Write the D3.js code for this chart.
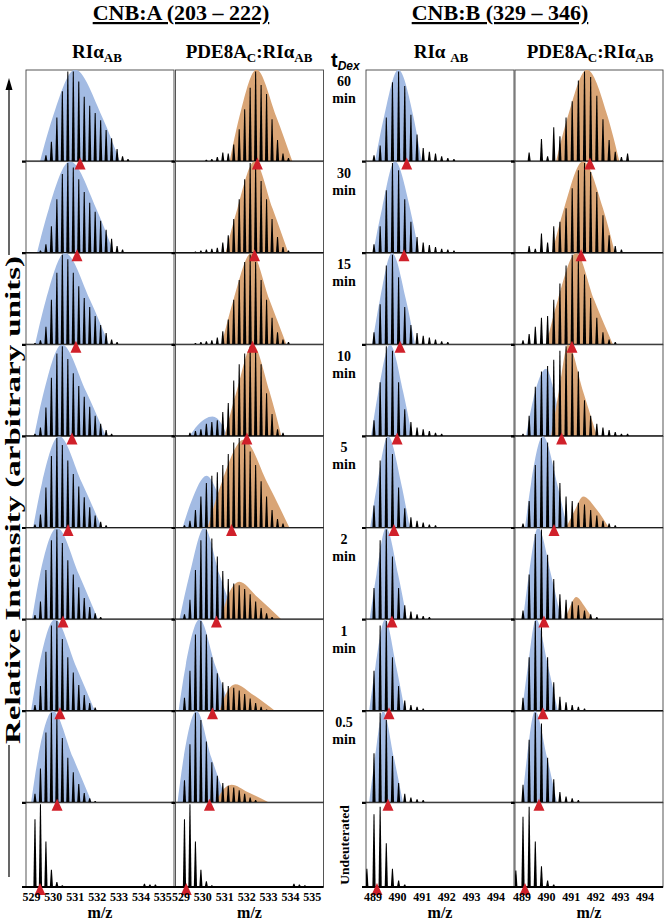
<!DOCTYPE html>
<html><head><meta charset="utf-8">
<script src="https://cdn.jsdelivr.net/npm/d3@7"></script>
<style>body{margin:0;background:#fff}svg{display:block}</style>
</head><body>
<svg id="c" width="664" height="922"></svg>
<script>
// ---------- data ----------
const timeLabels = ["60","30","15","10","5","2","1","0.5","Undeuterated"];
const ticksA = [529,530,531,532,533,534,535];
const ticksB = [489,490,491,492,493,494];
const domainA = [528.75, 535.51];
const domainB = [488.715, 494.73];
const monoA = 529.16, monoB = 489.04, isoStep = 0.25;

// peak heights, index = isotope number from the monoisotopic peak
const peaksA_free = [
 [0,0,0.07,0.22,0.49,0.78,1.0,1.0,0.89,0.72,0.62,0.54,0.46,0.35,0.26,0.14,0.06,0.03],
 [0,0.03,0.1,0.3,0.6,0.88,1.0,0.95,0.82,0.68,0.56,0.46,0.36,0.26,0.16,0.08,0.04],
 [0.02,0.05,0.2,0.5,0.8,1.0,0.95,0.8,0.65,0.52,0.42,0.32,0.22,0.13,0.06,0.03],
 [0.03,0.1,0.32,0.65,0.92,1.0,0.86,0.7,0.56,0.44,0.33,0.23,0.14,0.07,0.03],
 [0.04,0.15,0.45,0.8,1.0,0.92,0.75,0.6,0.46,0.34,0.23,0.14,0.07,0.03],
 [0.05,0.2,0.55,0.88,1.0,0.85,0.66,0.5,0.36,0.24,0.14,0.07,0.03],
 [0.07,0.28,0.66,0.95,1.0,0.8,0.6,0.43,0.29,0.18,0.09,0.04],
 [0.1,0.38,0.78,1.0,0.95,0.72,0.5,0.34,0.21,0.11,0.05,0.02],
 [0.82,1.0,0.55,0.21,0.06,0.02,0,0,0,0,0,0,0,0,0,0,0,0,0,0,0.04,0.03,0.03]
];
const peaksA_cplx = [
 [0,0,0,0,0.02,0.03,0.05,0.1,0.09,0.19,0.36,0.58,0.82,1.0,0.85,0.75,0.47,0.24,0.09,0.04],
 [0,0,0.02,0.03,0.04,0.05,0.06,0.12,0.2,0.38,0.6,0.82,1.0,0.98,0.8,0.6,0.38,0.18,0.07,0.03],
 [0,0,0.02,0.03,0.04,0.05,0.08,0.15,0.28,0.5,0.72,0.92,1.0,0.92,0.72,0.5,0.3,0.14,0.06,0.03],
 [0,0.04,0.06,0.08,0.14,0.16,0.18,0.27,0.37,0.62,0.8,0.92,1.0,0.96,0.8,0.48,0.25,0.08,0.04],
 [0.03,0.08,0.2,0.35,0.5,0.58,0.62,0.7,0.82,0.95,1.0,0.96,0.85,0.7,0.52,0.35,0.2,0.1,0.05],
 [0.06,0.22,0.55,0.88,1.0,0.9,0.7,0.54,0.45,0.4,0.38,0.34,0.28,0.2,0.13,0.07,0.03],
 [0.15,0.45,0.85,1.0,0.85,0.6,0.42,0.32,0.28,0.26,0.23,0.19,0.14,0.09,0.05,0.02],
 [0.25,0.65,1.0,0.92,0.68,0.45,0.3,0.22,0.19,0.17,0.14,0.1,0.06,0.03],
 [0.82,1.0,0.55,0.21,0.07,0.02,0,0,0,0,0,0,0,0,0,0,0,0,0,0,0.04,0.03,0.02]
];
const peaksB_free = [
 [0.07,0.18,0.49,0.88,1.0,0.84,0.52,0.3,0.15,0.11,0.09,0.06,0.04,0.03],
 [0.1,0.3,0.7,1.0,0.92,0.6,0.35,0.18,0.12,0.09,0.07,0.05,0.04,0.03],
 [0.14,0.45,0.88,1.0,0.75,0.42,0.22,0.13,0.1,0.08,0.06,0.04,0.03],
 [0.18,0.6,1.0,0.95,0.6,0.3,0.16,0.1,0.08,0.06,0.04,0.03],
 [0.25,0.75,1.0,0.82,0.45,0.22,0.12,0.08,0.06,0.04,0.03],
 [0.35,0.88,1.0,0.7,0.35,0.16,0.09,0.06,0.04,0.03],
 [0.45,0.95,1.0,0.6,0.28,0.12,0.07,0.05,0.03],
 [0.55,1.0,0.92,0.52,0.22,0.1,0.06,0.04,0.03],
 [0.88,0.97,0.53,0.22,0.08,0.03]
];
const peaksB_cplx = [
 [0,0.1,0,0.25,0.06,0.38,0.28,0.49,0.67,0.9,1.0,0.94,0.73,0.47,0.24,0.11,0.05,0.09],
 [0,0.08,0.05,0.22,0.12,0.3,0.35,0.5,0.72,0.92,1.0,0.9,0.68,0.42,0.2,0.08,0.04],
 [0.05,0.12,0.2,0.3,0.32,0.5,0.68,0.88,1.0,0.95,0.78,0.52,0.3,0.14,0.06,0.03],
 [0.03,0.23,0.55,0.72,0.78,0.85,0.95,1.0,0.92,0.72,0.4,0.23,0.14,0.1,0.07,0.05,0.03,0.03],
 [0.05,0.3,0.7,1.0,0.95,0.75,0.5,0.35,0.3,0.28,0.26,0.2,0.14,0.08,0.05,0.03],
 [0.1,0.5,0.95,1.0,0.72,0.45,0.28,0.22,0.2,0.16,0.1,0.06,0.03],
 [0.15,0.6,1.0,0.95,0.6,0.32,0.16,0.1,0.07,0.05,0.03],
 [0.2,0.7,1.0,0.88,0.5,0.26,0.12,0.07,0.05,0.03],
 [0.85,0.97,0.55,0.25,0.08,0.03]
];
// extra (non-isotope-grid) peaks: [row, m/z, height]
const extraB_free = [[8, 488.75, 0.22]];
const extraB_cplx = [[8, 488.75, 0.2]];

// envelope outlines: [m/z, relative height]
const blueA_free = [
 [[529.39,0],[529.98,0.5],[530.99,1.02],[532.22,0.5],[533.04,0]],
 [[529.25,0],[529.80,0.5],[530.76,1.02],[531.95,0.5],[532.77,0]],
 [[529.16,0],[529.66,0.5],[530.53,1.02],[531.67,0.5],[532.54,0]],
 [[529.12,0],[529.57,0.5],[530.39,1.02],[531.49,0.5],[532.40,0]],
 [[529.07,0],[529.48,0.5],[530.26,1.02],[531.31,0.5],[532.22,0]],
 [[529.02,0],[529.39,0.5],[530.17,1.02],[531.17,0.5],[532.04,0]],
 [[528.98,0],[529.34,0.5],[530.07,1.02],[531.03,0.5],[531.90,0]],
 [[528.98,0],[529.30,0.5],[529.98,1.02],[530.90,0.5],[531.76,0]],
 null
];
const blueA_cplx = [null,null,null,
 [[529.39,0],[529.75,0.12],[530.44,0.22],[530.85,0.14],[531.12,0]],
 [[529.07,0],[529.48,0.3],[530.17,0.58],[530.85,0.3],[531.49,0]],
 [[528.93,0],[529.39,0.5],[530.07,1.02],[530.76,0.5],[531.49,0]],
 [[528.89,0],[529.21,0.5],[529.85,1.02],[530.58,0.5],[531.31,0]],
 [[528.84,0],[529.12,0.5],[529.71,1.02],[530.39,0.5],[531.12,0]],
 null
];
const orangeA_cplx = [
 [[531.22,0],[531.67,0.5],[532.45,1.02],[533.35,0.5],[534.09,0]],
 [[531.03,0],[531.58,0.5],[532.36,1.02],[533.18,0.5],[533.91,0]],
 [[530.85,0],[531.40,0.5],[532.22,1.02],[533.04,0.5],[533.82,0]],
 [[530.99,0],[531.54,0.5],[532.27,1.02],[533.04,0.5],[533.59,0]],
 [[530.21,0],[530.85,0.5],[531.86,0.98],[532.95,0.5],[533.96,0]],
 [[530.85,0],[531.12,0.25],[531.67,0.42],[532.49,0.25],[533.59,0]],
 [[530.76,0],[531.03,0.18],[531.49,0.3],[532.31,0.18],[533.32,0]],
 [[530.58,0],[530.85,0.12],[531.31,0.2],[532.04,0.12],[533.04,0]],
 null
];
const blueB_free = [
 [[489.08,0],[489.45,0.5],[490.03,1.02],[490.64,0.5],[490.98,0]],
 [[489.00,0],[489.37,0.5],[489.89,1.02],[490.50,0.5],[490.87,0]],
 [[488.96,0],[489.28,0.5],[489.77,1.02],[490.34,0.5],[490.71,0]],
 [[488.92,0],[489.22,0.5],[489.69,1.02],[490.22,0.5],[490.59,0]],
 [[488.88,0],[489.18,0.5],[489.61,1.02],[490.14,0.5],[490.50,0]],
 [[488.86,0],[489.14,0.5],[489.53,1.02],[490.02,0.5],[490.38,0]],
 [[488.84,0],[489.10,0.5],[489.49,1.02],[489.94,0.5],[490.30,0]],
 [[488.84,0],[489.08,0.5],[489.41,1.02],[489.85,0.5],[490.22,0]],
 null
];
const blueB_cplx = [null,null,null,
 [[489.16,0],[489.45,0.4],[489.98,0.75],[490.34,0.45],[490.67,0]],
 [[489.12,0],[489.37,0.5],[489.85,1.02],[490.42,0.5],[490.83,0]],
 [[489.04,0],[489.28,0.5],[489.65,1.02],[490.18,0.5],[490.59,0]],
 [[489.00,0],[489.24,0.5],[489.57,1.02],[490.06,0.5],[490.46,0]],
 [[489.00,0],[489.20,0.5],[489.53,1.02],[490.02,0.5],[490.42,0]],
 null
];
const orangeB_cplx = [
 [[490.38,0],[490.86,0.5],[491.64,1.02],[492.48,0.5],[492.96,0]],
 [[490.22,0],[490.71,0.5],[491.48,1.02],[492.29,0.5],[492.78,0]],
 [[489.98,0],[490.46,0.5],[491.20,1.02],[491.93,0.5],[492.70,0]],
 [[490.18,0],[490.50,0.5],[490.87,1.02],[491.48,0.5],[492.05,0]],
 [[490.79,0],[491.15,0.2],[491.48,0.35],[492.05,0.2],[492.54,0]],
 [[490.75,0],[490.95,0.14],[491.20,0.25],[491.56,0.14],[491.89,0]],
 null,null,null
];
// centroid m/z (red triangles)
const centA_free = [531.22,531.08,531.03,530.85,530.67,530.44,530.30,530.17,529.39];
const centA_cplx = [532.49,532.36,532.27,532.01,531.31,530.62,530.44,530.30,529.24];
const centB_free = [490.37,490.26,490.10,489.98,489.85,489.77,489.65,489.61,489.16];
const centB_cplx = [491.76,491.40,491.03,490.61,490.30,489.89,489.85,489.69,489.12];

// ---------- layout ----------
const serif = "'Liberation Serif','Times New Roman',serif";
const sans = "'Liberation Sans',Arial,sans-serif";
const colLeft = [26,175.5,366,515], panelW = 148;
const rowTop0 = 70, rowH = 91.6, lastBottom = 887;
const tops = d3.range(9).map(i => rowTop0 + i*rowH);
const bottoms = tops.map((t,i) => i < 8 ? tops[i+1] : lastBottom);
const BLUE = "#a3bbe3", ORANGE = "#d9a576", RED = "#d0202a";

const cols = [
 {peaks:peaksA_free, mono:monoA, dom:domainA, ticks:ticksA, blue:blueA_free, orange:null, cent:centA_free, extra:[]},
 {peaks:peaksA_cplx, mono:monoA, dom:domainA, ticks:ticksA, blue:blueA_cplx, orange:orangeA_cplx, cent:centA_cplx, extra:[]},
 {peaks:peaksB_free, mono:monoB, dom:domainB, ticks:ticksB, blue:blueB_free, orange:null, cent:centB_free, extra:extraB_free},
 {peaks:peaksB_cplx, mono:monoB, dom:domainB, ticks:ticksB, blue:blueB_cplx, orange:orangeB_cplx, cent:centB_cplx, extra:extraB_cplx}
];

const svg = d3.select("#c");
const defs = svg.append("defs");
const gPanels = svg.append("g");
const gTri = svg.append("g");

cols.forEach((c, ci) => {
  const x = d3.scaleLinear().domain(c.dom).range([colLeft[ci], colLeft[ci] + panelW]);
  for (let r = 0; r < 9; r++) {
    const top = tops[r], base = bottoms[r];
    const y = d3.scaleLinear().domain([0,1]).range([base, top + 1.5]);
    const g = gPanels.append("g");
    const cid = `clip${ci}_${r}`;
    defs.append("clipPath").attr("id", cid).append("rect")
      .attr("x", colLeft[ci]).attr("y", top).attr("width", panelW).attr("height", base - top);
    g.append("rect").attr("x", colLeft[ci]).attr("y", top).attr("width", panelW).attr("height", base - top)
      .attr("fill", "#fff").attr("stroke", "#444").attr("stroke-width", 0.9);
    const inner = g.append("g").attr("clip-path", `url(#${cid})`);
    const area = d3.area().x(d => x(d[0])).y0(base).y1(d => y(d[1])).curve(d3.curveMonotoneX);
    if (c.blue && c.blue[r]) inner.append("path").attr("d", area(c.blue[r])).attr("fill", BLUE);
    if (c.orange && c.orange[r]) inner.append("path").attr("d", area(c.orange[r])).attr("fill", ORANGE);
    const pk = c.peaks[r].map((h, i) => [c.mono + i*isoStep, h]).filter(d => d[1] > 0);
    c.extra.filter(e => e[0] === r).forEach(e => pk.push([e[1], e[2]]));
    inner.selectAll("path.pk").data(pk).join("path").attr("class","pk")
      .attr("d", d => { const px = x(d[0]), py = y(d[1]);
        return `M${px-1.6},${base}L${px-0.5},${py}L${px+0.5},${py}L${px+1.6},${base}Z`; })
      .attr("fill", "#000");
    g.append("line").attr("x1", colLeft[ci] - 4).attr("x2", colLeft[ci] + panelW)
      .attr("y1", base).attr("y2", base).attr("stroke", "#000").attr("stroke-width", 2.2);
    const cx = x(c.cent[r]);
    gTri.append("path").attr("d", `M${cx},${base-4}L${cx+5.5},${base+8}L${cx-5.5},${base+8}Z`).attr("fill", RED);
  }
  // tick labels
  svg.append("g").selectAll("text").data(c.ticks).join("text")
    .attr("x", d => x(d)).attr("y", 901).attr("text-anchor", "middle")
    .attr("font-family", serif).attr("font-weight", "bold").attr("font-size", 12).text(d => d);
  svg.append("text").attr("x", colLeft[ci] + panelW/2).attr("y", 918).attr("text-anchor", "middle")
    .attr("font-family", serif).attr("font-weight", "bold").attr("font-size", 16).text("m/z");
});

// titles
[["CNB:A (203 \u2013 222)", 181], ["CNB:B (329 \u2013 346)", 500]].forEach(([t, cx]) => {
  svg.append("text").attr("x", cx).attr("y", 20).attr("text-anchor", "middle")
    .attr("font-family", serif).attr("font-weight", "bold").attr("font-size", 22)
    .style("text-decoration", "underline").text(t);
});
// column subtitles
function riab(cx, gap) {
  const t = svg.append("text").attr("x", cx).attr("y", 58).attr("text-anchor", "middle")
    .attr("font-family", serif).attr("font-weight", "bold").attr("font-size", 19);
  t.append("tspan").text("RI\u03b1" + (gap ? " " : ""));
  t.append("tspan").attr("font-size", 13).attr("dy", 4).text("AB");
}
function pde(cx) {
  const t = svg.append("text").attr("x", cx).attr("y", 58).attr("text-anchor", "middle")
    .attr("font-family", serif).attr("font-weight", "bold").attr("font-size", 19);
  t.append("tspan").text("PDE8A");
  t.append("tspan").attr("font-size", 13).attr("dy", 4).text("C");
  t.append("tspan").attr("dy", -4).text(":RI\u03b1");
  t.append("tspan").attr("font-size", 13).attr("dy", 4).text("AB");
}
riab(97, false); pde(249); riab(441, true); pde(590);

// t_Dex
const td = svg.append("text").attr("x", 331).attr("y", 67).attr("font-family", sans).attr("font-weight", "bold").attr("font-size", 20);
td.append("tspan").text("t");
td.append("tspan").attr("font-size", 12).attr("font-style", "italic").attr("dy", 3).text("Dex");

// time labels
timeLabels.slice(0, 8).forEach((t, i) => {
  [t, "min"].forEach((s, k) => svg.append("text").attr("x", 344).attr("y", tops[i] + 16 + k*17)
    .attr("text-anchor", "middle").attr("font-family", serif).attr("font-weight", "bold")
    .attr("font-size", 14).text(s));
});
svg.append("text").attr("transform", `translate(348.5,${(tops[8]+lastBottom)/2}) rotate(-90)`)
  .attr("text-anchor", "middle").attr("font-family", serif).attr("font-weight", "bold")
  .attr("font-size", 13.5).text(timeLabels[8]);

// y-axis label with arrow
const labLen = 488, labCy = 500;
svg.append("text").attr("transform", `translate(20,${labCy}) rotate(-90)`)
  .attr("text-anchor", "middle").attr("font-family", serif).attr("font-weight", "bold")
  .attr("font-size", 21).attr("textLength", labLen).attr("lengthAdjust", "spacingAndGlyphs")
  .text("Relative Intensity (arbitrary units)");
const lineX = 9;
svg.append("line").attr("x1", lineX).attr("x2", lineX).attr("y1", 877).attr("y2", labCy + labLen/2 + 1).attr("stroke", "#000").attr("stroke-width", 1.2);
svg.append("line").attr("x1", lineX).attr("x2", lineX).attr("y1", labCy - labLen/2 - 1).attr("y2", 88).attr("stroke", "#000").attr("stroke-width", 1.2);
svg.append("path").attr("d", `M${lineX},78L${lineX+3.5},90L${lineX-3.5},90Z`).attr("fill", "#000");
</script>
</body></html>
